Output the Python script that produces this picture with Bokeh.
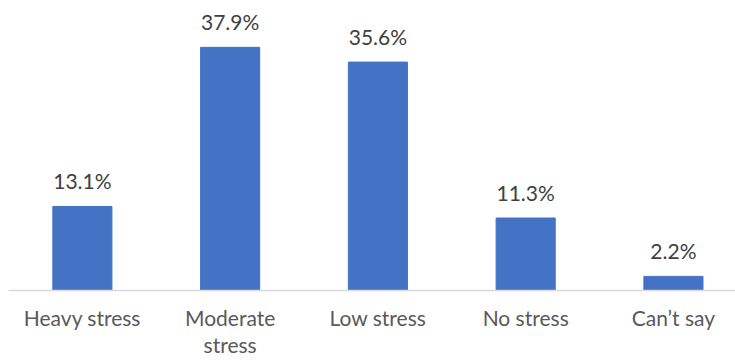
from bokeh.plotting import figure
from bokeh.models import ColumnDataSource, Range1d, FixedTicker
from bokeh.core.properties import value
from bokeh.embed import file_html
from bokeh.resources import INLINE

categories = ["Heavy stress", "Moderate\nstress", "Low stress", "No stress", "Can\u2019t say"]
values = [13.1, 37.9, 35.6, 11.3, 2.2]
labels = ["13.1%", "37.9%", "35.6%", "11.3%", "2.2%"]

xs = list(range(len(categories)))
src = ColumnDataSource(dict(x=xs, top=values, lab=labels))

p = figure(width=735, height=360, output_backend="svg", toolbar_location=None,
           x_range=Range1d(-0.5, 4.42), y_range=Range1d(0, 45.2),
           min_border_left=8, min_border_right=0, min_border_top=0, min_border_bottom=70)
p.outline_line_color = None
p.background_fill_color = "white"
p.xgrid.visible = False
p.ygrid.visible = False
p.yaxis.visible = False

p.vbar(x="x", top="top", bottom=0, width=0.4, source=src, color="#4472C4")
p.text(x="x", y="top", text="lab", source=src, text_align="center", text_baseline="bottom",
       y_offset=-13, text_font=value("Lato"), text_font_size="21px", text_color="#404040")

ax = p.xaxis[0]
ax.ticker = FixedTicker(ticks=xs)
ax.major_label_overrides = {i: c for i, c in zip(xs, categories)}
ax.major_tick_line_color = None
ax.minor_tick_line_color = None
ax.axis_line_color = "#d9d9d9"
ax.axis_line_width = 1.5
ax.major_label_text_font = "Lato"
ax.major_label_text_font_size = "21px"
ax.major_label_text_color = "#595959"
ax.major_label_text_line_height = 1.1
ax.major_label_standoff = 8

open("out.html", "w").write(file_html(p, INLINE))
